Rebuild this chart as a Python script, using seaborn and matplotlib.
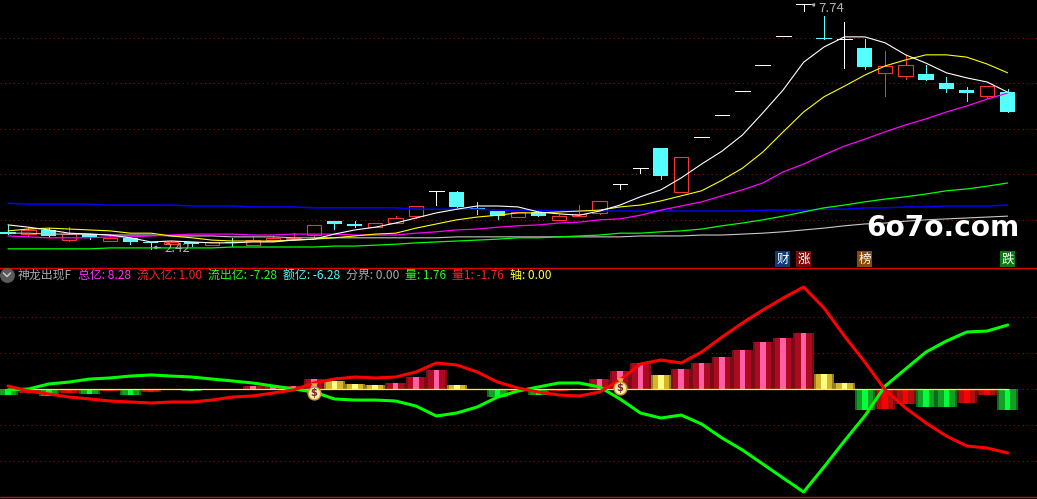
import matplotlib
matplotlib.use('Agg')
import matplotlib.pyplot as plt
import numpy as np
import seaborn as sns

# ============================================================
# DATA
# ============================================================
days = list(range(50))

candle_top = [2.80, 2.84, 2.84, 2.75, 2.75, 2.67, 2.67, 2.58, 2.58, 2.58,
              2.58, 2.58, 2.62, 2.67, 2.67, 2.95, 3.03, 2.97, 2.99, 3.10,
              3.36, 3.69, 3.66, 3.32, 3.25, 3.23, 3.23, 3.14, 3.19, 3.47,
              3.84, 4.18, 4.62, 4.42, 4.86, 5.33, 5.86, 6.42, 7.05, 7.74,
              7.01, 6.98, 6.79, 6.40, 6.42, 6.22, 6.03, 5.88, 5.96, 5.83]
candle_bot = [2.75, 2.75, 2.71, 2.62, 2.69, 2.60, 2.58, 2.56, 2.53, 2.53,
              2.51, 2.56, 2.51, 2.62, 2.64, 2.73, 2.97, 2.93, 2.90, 2.99,
              3.14, 3.69, 3.34, 3.29, 3.14, 3.12, 3.14, 3.06, 3.14, 3.21,
              3.84, 4.18, 4.01, 3.66, 4.86, 5.33, 5.86, 6.42, 7.05, 7.74,
              6.98, 6.98, 6.38, 6.25, 6.18, 6.09, 5.90, 5.81, 5.75, 5.40]
candle_high = [2.95, 2.88, 2.88, 2.90, 2.75, 2.71, 2.69, 2.58, 2.60, 2.58,
               2.58, 2.67, 2.69, 2.71, 2.77, 2.95, 3.03, 3.03, 2.99, 3.14,
               3.36, 3.69, 3.69, 3.45, 3.25, 3.23, 3.25, 3.16, 3.38, 3.47,
               3.84, 4.18, 4.62, 4.42, 4.86, 5.33, 5.86, 6.42, 7.05, 7.74,
               7.48, 7.35, 6.98, 6.72, 6.64, 6.42, 6.16, 5.94, 5.96, 5.90]
candle_low = [2.75, 2.71, 2.69, 2.60, 2.64, 2.60, 2.53, 2.42, 2.53, 2.49,
              2.51, 2.49, 2.51, 2.60, 2.62, 2.69, 2.86, 2.90, 2.90, 2.99,
              3.10, 3.38, 3.34, 3.19, 3.08, 3.12, 3.14, 3.06, 3.14, 3.19,
              3.73, 4.08, 3.95, 3.66, 4.86, 5.33, 5.86, 6.42, 7.05, 7.59,
              6.98, 6.35, 6.33, 5.75, 6.12, 6.09, 5.83, 5.64, 5.70, 5.40]
candle_kind = list('crcrcrccrcrcrrrrccrrrwcccrcrrrwwcrwwwwwwcwcrrcccrc')

ma_white = [2.95, 2.90, 2.84, 2.77, 2.75, 2.73, 2.67, 2.58, 2.60, 2.58,
            2.56, 2.56, 2.58, 2.58, 2.62, 2.64, 2.75, 2.84, 2.90, 2.99,
            3.10, 3.21, 3.29, 3.36, 3.36, 3.34, 3.23, 3.19, 3.16, 3.25,
            3.38, 3.56, 3.71, 3.97, 4.27, 4.55, 4.90, 5.38, 5.88, 6.48,
            6.81, 7.03, 7.03, 6.90, 6.64, 6.46, 6.25, 6.14, 6.05, 5.83]
ma_yellow = [2.82, 2.86, 2.88, 2.86, 2.84, 2.82, 2.77, 2.77, 2.71, 2.67,
             2.62, 2.60, 2.60, 2.60, 2.62, 2.64, 2.67, 2.71, 2.75, 2.77,
             2.88, 2.97, 3.06, 3.12, 3.16, 3.21, 3.21, 3.23, 3.25, 3.27,
             3.34, 3.38, 3.47, 3.58, 3.69, 3.92, 4.18, 4.53, 4.97, 5.40,
             5.73, 5.96, 6.20, 6.40, 6.53, 6.64, 6.64, 6.59, 6.44, 6.25]
ma_magenta = [2.71, 2.69, 2.67, 2.67, 2.67, 2.69, 2.69, 2.71, 2.73, 2.75,
              2.75, 2.75, 2.73, 2.73, 2.75, 2.75, 2.75, 2.73, 2.73, 2.73,
              2.77, 2.80, 2.84, 2.86, 2.90, 2.93, 2.95, 2.99, 3.01, 3.06,
              3.08, 3.16, 3.27, 3.36, 3.45, 3.58, 3.71, 3.86, 4.10, 4.27,
              4.47, 4.66, 4.81, 4.97, 5.12, 5.25, 5.40, 5.53, 5.68, 5.81]
ma_green = [2.43, 2.43, 2.43, 2.43, 2.43, 2.45, 2.45, 2.45, 2.45, 2.45,
            2.45, 2.47, 2.47, 2.47, 2.47, 2.47, 2.49, 2.49, 2.51, 2.53,
            2.56, 2.58, 2.60, 2.62, 2.64, 2.67, 2.67, 2.69, 2.71, 2.73,
            2.77, 2.77, 2.80, 2.82, 2.86, 2.93, 2.99, 3.06, 3.14, 3.23,
            3.32, 3.38, 3.45, 3.51, 3.56, 3.62, 3.69, 3.73, 3.79, 3.86]
ma_blue = [3.42, 3.40, 3.40, 3.40, 3.40, 3.38, 3.38, 3.38, 3.38, 3.36,
           3.36, 3.36, 3.34, 3.34, 3.34, 3.32, 3.32, 3.32, 3.32, 3.32,
           3.29, 3.29, 3.29, 3.29, 3.27, 3.27, 3.27, 3.25, 3.25, 3.25,
           3.25, 3.25, 3.25, 3.25, 3.25, 3.25, 3.25, 3.27, 3.27, 3.27,
           3.29, 3.29, 3.32, 3.32, 3.34, 3.34, 3.36, 3.36, 3.36, 3.38]
ma_gray = [2.77, 2.77, 2.75, 2.75, 2.75, 2.73, 2.73, 2.73, 2.71, 2.71,
           2.71, 2.69, 2.69, 2.69, 2.67, 2.67, 2.67, 2.67, 2.67, 2.67,
           2.67, 2.67, 2.69, 2.69, 2.69, 2.69, 2.69, 2.69, 2.69, 2.69,
           2.69, 2.71, 2.71, 2.71, 2.73, 2.73, 2.75, 2.77, 2.80, 2.84,
           2.88, 2.93, 2.97, 2.99, 3.03, 3.06, 3.08, 3.10, 3.12, 3.14]

flow_in = [0.25, -0.17, -0.42, -0.67, -0.83, -1.00, -1.08, -1.17, -1.08, -1.08,
           -0.92, -0.67, -0.58, -0.33, -0.08, 0.50, 0.83, 1.00, 0.92, 1.00,
           1.42, 2.17, 2.00, 1.42, 0.58, 0.08, -0.25, -0.50, -0.58, -0.25,
           0.75, 2.08, 2.42, 2.17, 3.08, 4.33, 5.50, 6.58, 7.58, 8.50,
           6.75, 4.42, 2.25, -0.08, -1.58, -2.83, -3.92, -4.75, -4.92, -5.33]
flow_out = [-0.08, 0.00, 0.42, 0.58, 0.83, 0.92, 1.08, 1.17, 1.08, 1.00,
            0.83, 0.67, 0.50, 0.25, 0.00, -0.25, -0.83, -0.92, -0.92, -1.00,
            -1.42, -2.25, -2.00, -1.50, -0.67, -0.17, 0.17, 0.50, 0.50, 0.17,
            -0.83, -2.00, -2.42, -2.17, -2.92, -4.08, -5.08, -6.25, -7.42, -8.58,
            -6.50, -4.33, -2.25, 0.25, 1.67, 3.08, 4.00, 4.75, 4.83, 5.33]

bar_value = [-0.50, -0.33, -0.62, -0.33, -0.42, -0.17, -0.50, -0.25, -0.08, -0.17,
             -0.04, -0.08, 0.29, 0.25, 0.25, 0.83, 0.67, 0.42, 0.33, 0.50,
             1.00, 1.58, 0.33, -0.08, -0.67, -0.17, -0.50, -0.17, -0.04, 0.83,
             1.50, 2.17, 1.17, 1.67, 2.17, 2.67, 3.25, 3.92, 4.25, 4.67,
             1.25, 0.50, -1.75, -1.67, -1.25, -1.50, -1.50, -1.17, -0.50, -1.76]
bar_kind = list('gngngngnngngrrrryyyrrrygg' + 'ngnnr' + 'rry' + 'rrrrrrr' + 'yy' + 'gnnggnng')

price_grid = [7.00, 6.03, 5.03, 4.05, 3.06]
flow_grid = [6, 3, 0, -3, -6]
header_text = ['神龙出现F', '总亿: 8.28', '流入亿: 1.00', '流出亿: -7.28', '额亿: -6.28',
               '分界: 0.00', '量: 1.76', '量1: -1.76', '轴: 0.00']
header_x = [18, 78, 137, 208, 283, 346, 405, 452, 510]
header_color = ['#a8a8a8', '#ff32ff', '#ff2020', '#20ff20', '#40ffff',
                '#a8a8a8', '#20ff20', '#ff2020', '#ffff30']
tag_text = ['财', '涨', '榜', '跌']
tag_x = [782.5, 803.5, 864.5, 1007.5]
tag_color = ['#0a3c78', '#7a0c0c', '#8a4a08', '#0a7a14']

# ============================================================
# FIGURE
# ============================================================
sns.set_theme(style='dark', rc={'figure.facecolor': 'black', 'axes.facecolor': 'black'})
plt.rcParams['font.family'] = ['Noto Sans CJK SC', 'DejaVu Sans']

W, H = 1037, 499
fig = plt.figure(figsize=(W / 100, H / 100), dpi=100)
ax_price = fig.add_axes([0, 1 - 267 / H, 1, 267 / H])
ax_flow = fig.add_axes([0, 0, 1, (H - 267) / H])

# ============================================================
# PRICE PANEL
# ============================================================
candle_colors = {'r': '#ff3232', 'c': '#54ffff', 'w': '#ffffff'}
for lv in price_grid:
    ax_price.axhline(lv, color='#861414', lw=0.8, ls=(0, (1, 3)), zorder=1)

for i in days:
    col = candle_colors[candle_kind[i]]
    ax_price.vlines(i, candle_low[i], candle_high[i], color=col, lw=0.72, zorder=2, antialiased=False)
    h = candle_top[i] - candle_bot[i]
    if candle_kind[i] == 'w' or h == 0:
        ax_price.hlines(candle_top[i], i - 0.36, i + 0.36, color=col, lw=0.72, zorder=2, antialiased=False)
    elif candle_kind[i] == 'r':
        ax_price.bar(i, h, bottom=candle_bot[i], width=0.7, facecolor='black', edgecolor=col,
                     linewidth=0.8, zorder=2)
    else:
        ax_price.bar(i, h, bottom=candle_bot[i], width=0.74, color=col, linewidth=0, zorder=2)

ma_lines = [(ma_gray, '#c8c8c8', 0.8), (ma_blue, '#0000ff', 1.1), (ma_green, '#00ff00', 0.9),
            (ma_magenta, '#ff00ff', 0.9), (ma_yellow, '#ffff00', 0.8), (ma_white, '#ffffff', 0.8)]
for vals, col, width in ma_lines:
    sns.lineplot(x=days, y=vals, color=col, lw=width, estimator=None, ax=ax_price, zorder=3)

ax_price.annotate('7.74', xy=(39.35, 7.74), xytext=(818, H - 9), textcoords='figure pixels',
                  xycoords='data', color='#b0b0b0', fontsize=9.5, va='center', zorder=6,
                  arrowprops=dict(arrowstyle='-|>', color='#b0b0b0', lw=0.7, mutation_scale=5,
                                  shrinkA=0, shrinkB=0))
ax_price.annotate('2.42', xy=(7.1, 2.46), xytext=(164, H - 248), textcoords='figure pixels',
                  xycoords='data', color='#b0b0b0', fontsize=9.5, va='center', zorder=6,
                  arrowprops=dict(arrowstyle='-|>', color='#b0b0b0', lw=0.7, mutation_scale=5,
                                  shrinkA=0, shrinkB=0))

fig.text(943 / W, 1 - 228 / H, '6o7o.com', color='white', fontsize=20.2, fontweight='bold',
         family='DejaVu Sans', ha='center', va='center')

for txt, x, col in zip(tag_text, tag_x, tag_color):
    fig.text(x / W, 1 - 259 / H, txt, color='white', fontsize=9, ha='center', va='center',
             bbox=dict(boxstyle='square,pad=0.12', fc=col, ec='none'))

# ============================================================
# FLOW PANEL
# ============================================================
layers = [
    (1.0, {'r': '#7a0c18', 'y': '#8f7d20', 'g': '#0a6b1c', 'n': '#7a0c0c'}),
    (0.8, {'r': '#ab0a20', 'y': '#d6b52a', 'g': '#12a024', 'n': '#b00f0f'}),
    (0.28, {'r': '#ff5fa5', 'y': '#ffff80', 'g': '#00ff3c', 'n': '#ff0000'}),
]
for width, pal in layers:
    sns.barplot(x=days, y=bar_value, hue=bar_kind, palette=pal, native_scale=True, dodge=False,
                width=width, saturation=1, linewidth=0, legend=False, ax=ax_flow, zorder=2)

for lv in flow_grid:
    ax_flow.axhline(lv, color='#861414', lw=0.8, ls=(0, (1, 3)), zorder=1)
ax_flow.plot([days[0], days[-1]], [0, 0], color='#ffff00', lw=0.9, zorder=3)

sns.lineplot(x=days, y=flow_out, color='#00ff00', lw=2.2, estimator=None, ax=ax_flow, zorder=4)
sns.lineplot(x=days, y=flow_in, color='#ff0000', lw=2.2, estimator=None, ax=ax_flow, zorder=5)

# money bag signals
signal_days = [15, 30]
signal_vals = [-0.33, 0.08]
sns.scatterplot(x=signal_days, y=np.array(signal_vals) + 0.6, s=22, marker='v', color='#d8b040',
                linewidth=0, ax=ax_flow, zorder=6, legend=False)
sns.scatterplot(x=signal_days, y=signal_vals, s=85, color='#f7e8ae', edgecolor='#c89b28',
                linewidth=1.0, ax=ax_flow, zorder=6, legend=False)
for d, v in zip(signal_days, signal_vals):
    ax_flow.text(d, v - 0.03, '$', color='#7a2a2a', fontsize=7, fontweight='bold', family='DejaVu Sans',
                 ha='center', va='center', zorder=7)

# border lines
ax_flow.axhline(10.125, color='#e00000', lw=1.0, zorder=8)
ax_flow.axhline(-8.96, color='#e00000', lw=1.0, zorder=8)

# header row
for txt, x, col in zip(header_text, header_x, header_color):
    fig.text(x / W, 1 - 275 / H, txt, color=col, fontsize=8.6, ha='left', va='center')
ax_flow.scatter([7 / W], [1 - 7.5 / (H - 267)], s=95, color='#5a5a5a', transform=ax_flow.transAxes,
                zorder=8, clip_on=False)
ax_flow.plot(np.array([3.5, 7, 10.5]) / W, 1 - np.array([6, 9.5, 6]) / (H - 267), color='#cfcfcf', lw=1,
             transform=ax_flow.transAxes, zorder=9)

# ============================================================
# SCALES
# ============================================================
for ax in (ax_price, ax_flow):
    ax.set_xlim(-8 / 20.4, (W - 8) / 20.4)
    ax.set_axis_off()
ax_price.set_ylim(7.83 - 0.0217 * 267, 7.83)
ax_flow.set_ylim((389 - H) / 12, (389 - 267) / 12)

plt.savefig('out.png', dpi=100, facecolor='black')
plt.close()
